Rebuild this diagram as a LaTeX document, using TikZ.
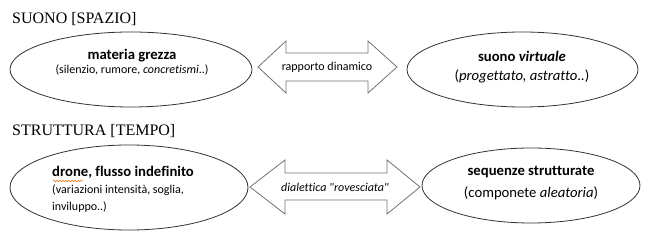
\documentclass[tikz,border=0pt]{standalone}
\usepackage{fontspec}
\setmainfont{Liberation Serif}
\newfontfamily\calibri[Ligatures={NoCommon}]{Carlito}
\usetikzlibrary{shapes.geometric,decorations.pathmorphing}

\tikzset{
  blob/.style={draw=black!80, line width=0.8pt, ellipse, inner sep=0pt},
  dblarrow/.style={draw=black!55, line width=0.8pt, fill=white},
  heading/.style={font=\fontsize{16}{18}\selectfont, anchor=west, inner sep=0pt},
  big/.style={font=\calibri\fontsize{14.7}{17}\selectfont, inner sep=0pt},
  small/.style={font=\calibri\fontsize{12}{14}\selectfont, inner sep=0pt},
}

\begin{document}
\begin{tikzpicture}[x=1pt, y=-1pt]
	\useasboundingbox (0,0) rectangle (647,245);
	% suono / spazio
	\node[heading] (spazio) at (12,19) {SUONO [SPAZIO]};
	\node[blob, minimum width=242, minimum height=75] (materia) at (131,69.5) {};
	\node[blob, minimum width=231, minimum height=75] (virtuale) at (522.5,69.5) {};
	\node[big] (materiaA) at (132,56) {\textbf{materia grezza}};
	\node[small] (materiaB) at (132,70) {(silenzio, rumore, \textit{concretismi}..)};
	\node[big] (virtualeA) at (522,56) {\textbf{suono \textit{virtuale}}};
	\node[big] (virtualeB) at (522,76) {(\textit{progettato, astratto..})};
	\draw[dblarrow] (258,67) -- (286,41) -- (286,53) -- (368,53) -- (368,41) -- (397,67)
		-- (368,93) -- (368,81) -- (286,81) -- (286,93) -- cycle;
	\node[small] (rapporto) at (327,67) {rapporto dinamico};
	% struttura / tempo
	\node[heading] (tempo) at (12,131) {STRUTTURA [TEMPO]};
	\node[blob, minimum width=238, minimum height=85] (drone) at (129,187.5) {};
	\node[blob, minimum width=218, minimum height=75] (sequenze) at (531,185.5) {};
	\node[big, anchor=west] (droneA) at (52,172) {\textbf{drone, flusso indefinito}};
	\node[small, anchor=west] (droneB) at (52,190) {(variazioni intensità, soglia,};
	\node[small, anchor=west] (droneC) at (52,207) {inviluppo..)};
	\draw[orange!80!red, line width=0.5pt, decorate, decoration={snake, amplitude=0.8pt, segment length=3pt}]
		(53,181) -- (83,181);
	\node[big] (sequenzeA) at (531,172) {\textbf{sequenze strutturate}};
	\node[big] (sequenzeB) at (531,193) {(componete \textit{aleatoria})};
	\draw[dblarrow] (250,187) -- (285,160) -- (285,173) -- (387,173) -- (387,160) -- (420,187)
		-- (387,214) -- (387,200) -- (285,200) -- (285,214) -- cycle;
	\node[small] (dialettica) at (335,187) {\textit{dialettica "rovesciata"}};
\end{tikzpicture}
\end{document}
